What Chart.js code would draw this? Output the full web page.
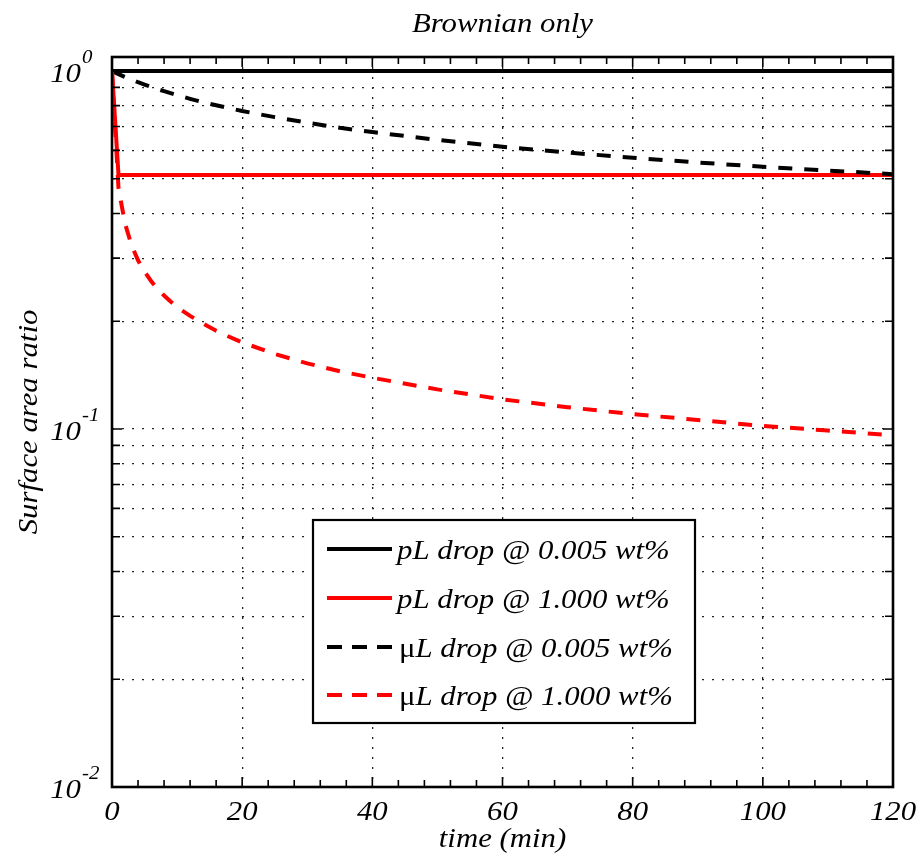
<!DOCTYPE html>
<html>
<head>
<meta charset="utf-8">
<script src="https://cdn.jsdelivr.net/npm/chart.js@4.4.1/dist/chart.umd.min.js"></script>
<style>
html, body { margin: 0; padding: 0; background: #fff; }
#wrap { width: 920px; height: 856px; }
</style>
</head>
<body>
<div id="wrap"><canvas id="canvas" width="920" height="856"></canvas></div>
<script>
// time in minutes
var timeMin = [0, 1, 2, 3, 4, 5, 6, 7, 8, 9, 10, 12, 14, 16, 18, 20, 25, 30, 35, 40, 50, 60, 70, 80, 90, 100, 110, 120];

// uL drop, 0.005 wt% (black dashed)
var microDilute = [1, 0.98, 0.962, 0.946, 0.93, 0.916, 0.903, 0.89, 0.878, 0.867, 0.856, 0.836, 0.818, 0.802, 0.787, 0.773,
    0.743, 0.717, 0.694, 0.675, 0.642, 0.614, 0.592, 0.572, 0.555, 0.54, 0.527, 0.515];
// uL drop, 1.000 wt% (red dashed)
var microConc = [1, 0.47, 0.375, 0.326, 0.296, 0.275, 0.259, 0.246, 0.236, 0.227, 0.219, 0.207, 0.197, 0.188, 0.181, 0.1745,
    0.162, 0.1525, 0.145, 0.139, 0.129, 0.121, 0.115, 0.11, 0.106, 0.102, 0.099, 0.096];

// pL drops
var picoDiluteTime = [0, 120];
var picoDilute = [1, 1];
var picoConcTime = [0, 1, 120];
var picoConc = [1, 0.512, 0.512];

var seriesNames = ['pL drop @ 0.005 wt%', 'pL drop @ 1.000 wt%', '\u03bcL drop @ 0.005 wt%', '\u03bcL drop @ 1.000 wt%'];

var xTicks = [0, 20, 40, 60, 80, 100, 120];
var yMajor = [0.01, 0.1, 1];
var yMajorExp = ['-2', '-1', '0'];
var yMinor = [0.02, 0.03, 0.04, 0.05, 0.06, 0.07, 0.08, 0.09, 0.2, 0.3, 0.4, 0.5, 0.6, 0.7, 0.8, 0.9];

var FONT = '"Liberation Serif", "Times New Roman", serif';
var FS = 28;
var SX = 1.1;

function pts(xs, ys) {
    return xs.map(function (x, i) { return {x: x, y: ys[i]}; });
}

function txt(ctx, s, x, y, size, italic, align, rot) {
    ctx.save();
    ctx.translate(x, y);
    if (rot) ctx.rotate(rot);
    ctx.scale(SX, 1);
    ctx.font = (italic ? 'italic ' : '') + size + 'px ' + FONT;
    ctx.textAlign = align || 'left';
    ctx.textBaseline = 'alphabetic';
    ctx.fillStyle = '#000';
    ctx.fillText(s, 0, 0);
    var w = ctx.measureText(s).width * SX;
    ctx.restore();
    return w;
}

var matlabLook = {
    id: 'matlabLook',
    afterDatasetsDraw: function (chart) {
        var ctx = chart.ctx, a = chart.chartArea;
        var xs = chart.scales.x, ys = chart.scales.y;
        ctx.save();

        // inward ticks
        ctx.strokeStyle = '#000';
        ctx.lineWidth = 1.6;
        ctx.beginPath();
        for (var t = xs.min; t <= xs.max; t += 4) {
            var px = xs.getPixelForValue(t);
            var len = xTicks.indexOf(t) >= 0 ? 10 : 7;
            ctx.moveTo(px, a.bottom); ctx.lineTo(px, a.bottom - len);
            ctx.moveTo(px, a.top); ctx.lineTo(px, a.top + len);
        }
        yMajor.concat(yMinor).forEach(function (v) {
            var py = ys.getPixelForValue(v);
            var len = yMajor.indexOf(v) >= 0 ? 10 : 8;
            ctx.moveTo(a.left, py); ctx.lineTo(a.left + len, py);
            ctx.moveTo(a.right, py); ctx.lineTo(a.right - len, py);
        });
        ctx.stroke();

        // frame
        ctx.lineWidth = 2.6;
        ctx.strokeRect(a.left, a.top, a.right - a.left, a.bottom - a.top);

        // tick labels
        xTicks.forEach(function (v) {
            txt(ctx, String(v), xs.getPixelForValue(v), 820, FS, true, 'center');
        });
        yMajor.forEach(function (v, i) {
            var py = ys.getPixelForValue(v);
            txt(ctx, '10', 81, py + 11, FS, true, 'right');
            txt(ctx, yMajorExp[i], 82, py - 8, 19, true, 'left');
        });

        // titles
        txt(ctx, 'Brownian only', (a.left + a.right) / 2, 32, FS, true, 'center');
        txt(ctx, 'time (min)', (a.left + a.right) / 2, 847, FS, true, 'center');
        txt(ctx, 'Surface area ratio', 37, (a.top + a.bottom) / 2, FS, true, 'center', -Math.PI / 2);

        // legend
        var bx = 313, by = 520, bw = 382, bh = 203;
        ctx.fillStyle = '#fff';
        ctx.fillRect(bx, by, bw, bh);
        ctx.lineWidth = 2.2;
        ctx.strokeStyle = '#000';
        ctx.strokeRect(bx, by, bw, bh);
        var rows = [549, 598, 647, 695];
        chart.data.datasets.forEach(function (ds, i) {
            var ry = rows[i];
            ctx.save();
            ctx.strokeStyle = ds.borderColor;
            ctx.lineWidth = ds.borderWidth;
            ctx.setLineDash(ds.borderDash && ds.borderDash.length ? [15, 10] : []);
            ctx.beginPath();
            ctx.moveTo(327, ry); ctx.lineTo(392, ry);
            ctx.stroke();
            ctx.restore();
            var label = ds.label, x = 397;
            if (label.charAt(0) === '\u03bc') {
                x = 399;
                x += txt(ctx, '\u03bc', x, ry + 10, FS, false, 'left');
                label = label.slice(1);
            }
            txt(ctx, label, x, ry + 10, FS, true, 'left');
        });

        ctx.restore();
    }
};

var lineStyle = function (label, data, color, dashed, order) {
    return {
        label: label,
        data: data,
        borderColor: color,
        backgroundColor: color,
        borderWidth: 4,
        borderDash: dashed ? [14, 12] : [],
        pointRadius: 0,
        tension: 0,
        fill: false,
        order: order
    };
};

new Chart(document.getElementById('canvas').getContext('2d'), {
    type: 'line',
    data: {
        datasets: [
            lineStyle(seriesNames[0], pts(picoDiluteTime, picoDilute), '#000000', false, 3),
            lineStyle(seriesNames[1], pts(picoConcTime, picoConc), '#ff0000', false, 2),
            lineStyle(seriesNames[2], pts(timeMin, microDilute), '#000000', true, 1),
            lineStyle(seriesNames[3], pts(timeMin, microConc), '#ff0000', true, 0)
        ]
    },
    options: {
        responsive: false,
        animation: false,
        devicePixelRatio: 1,
        layout: {padding: {left: 112, right: 27, top: 57, bottom: 69}},
        plugins: {legend: {display: false}, title: {display: false}, tooltip: {enabled: false}},
        scales: {
            x: {
                type: 'linear',
                min: 0,
                max: 120,
                ticks: {display: false, stepSize: 20},
                grid: {color: '#222', lineWidth: 1.3, drawTicks: false},
                border: {display: false, dash: [2, 8]},
                afterFit: function (s) { s.height = 0; }
            },
            y: {
                type: 'logarithmic',
                min: 0.01,
                max: 1.094,
                ticks: {display: false},
                grid: {color: '#222', lineWidth: 1.3, drawTicks: false},
                border: {display: false, dash: [2, 8]},
                afterBuildTicks: function (s) {
                    s.ticks = yMajor.concat(yMinor).sort(function (p, q) { return p - q; })
                        .map(function (v) { return {value: v}; });
                },
                afterFit: function (s) { s.width = 0; }
            }
        }
    },
    plugins: [matlabLook]
});
</script>
</body>
</html>
